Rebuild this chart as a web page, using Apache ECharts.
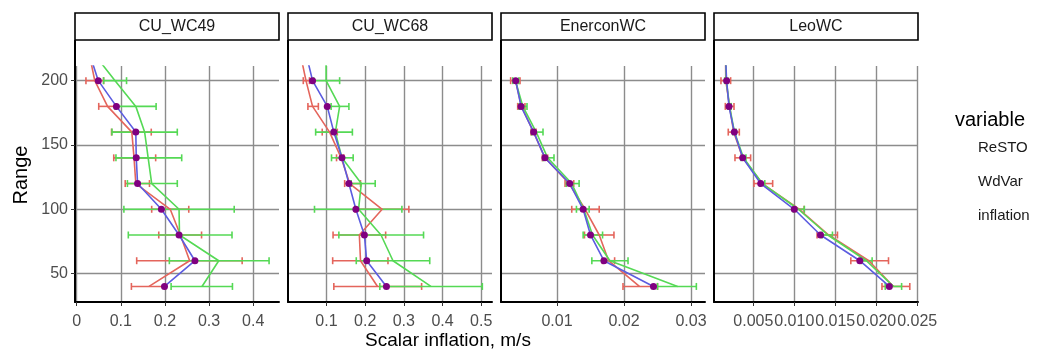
<!DOCTYPE html>
<html>
<head>
<meta charset="utf-8">
<script src="https://cdn.jsdelivr.net/npm/echarts@6/dist/echarts.min.js"></script>
<style>html,body{margin:0;padding:0;background:#fff}#c{width:1049px;height:351px}</style>
</head>
<body>
<div id="c"></div>
<script>
// ---- data ----
const ranges = [220, 200, 180, 160, 140, 120, 100, 80, 60, 40];
const panels = ['CU_WC49', 'CU_WC68', 'EnerconWC', 'LeoWC'];
const variables = ['ReSTO', 'WdVar', 'inflation'];

const cu49_ReSTO     = [0.029, 0.041, 0.070, 0.125, 0.130, 0.134, 0.212, 0.235, 0.256, 0.164];
const cu49_ReSTO_lo  = [null, 0.021, 0.050, 0.079, 0.084, 0.110, 0.170, 0.186, 0.136, 0.124];
const cu49_ReSTO_hi  = [null, 0.061, 0.089, 0.169, 0.179, 0.165, 0.254, 0.283, 0.375, 0.201];
const cu49_WdVar     = [0.041, 0.087, 0.134, 0.154, 0.162, 0.170, 0.232, 0.233, 0.322, 0.284];
const cu49_WdVar_lo  = [null, 0.061, 0.087, 0.080, 0.089, 0.115, 0.107, 0.117, 0.210, 0.214];
const cu49_WdVar_hi  = [null, 0.113, 0.180, 0.228, 0.238, 0.228, 0.357, 0.352, 0.436, 0.353];
const cu49_inflation = [0.030, 0.049, 0.090, 0.134, 0.135, 0.138, 0.192, 0.232, 0.268, 0.199];

const cu68_ReSTO     = [0.033, 0.047, 0.064, 0.108, 0.138, 0.160, 0.244, 0.185, 0.188, 0.232];
const cu68_ReSTO_lo  = [null, 0.040, 0.052, 0.089, 0.126, 0.147, 0.174, 0.117, 0.116, 0.119];
const cu68_ReSTO_hi  = [null, 0.056, 0.079, 0.128, 0.145, 0.188, 0.313, 0.253, 0.259, 0.346];
const cu68_WdVar     = [0.099, 0.099, 0.134, 0.123, 0.140, 0.190, 0.183, 0.241, 0.272, 0.370];
const cu68_WdVar_lo  = [null, 0.067, 0.112, 0.072, 0.113, 0.164, 0.069, 0.132, 0.177, 0.238];
const cu68_WdVar_hi  = [null, 0.134, 0.158, 0.167, 0.169, 0.226, 0.295, 0.351, 0.367, 0.503];
const cu68_inflation = [0.048, 0.064, 0.102, 0.119, 0.140, 0.158, 0.176, 0.198, 0.204, 0.255];

const ener_ReSTO     = [null, 0.0038, 0.0047, 0.0065, 0.0082, 0.0118, 0.0142, 0.0163, 0.0177, 0.0223];
const ener_ReSTO_lo  = [null, 0.00308, 0.00413, 0.00612, 0.00781, 0.0112, 0.0122, 0.0141, 0.0168, 0.01985];
const ener_ReSTO_hi  = [null, 0.00448, 0.00522, 0.00687, 0.0086, 0.0125, 0.0163, 0.0185, 0.0186, 0.0250];
const ener_WdVar     = [null, 0.0038, 0.0049, 0.0069, 0.0086, 0.0122, 0.0140, 0.0153, 0.0179, 0.0280];
const ener_WdVar_lo  = [null, 0.0034, 0.00433, 0.00622, 0.00796, 0.0114, 0.0129, 0.0139, 0.0152, 0.0250];
const ener_WdVar_hi  = [null, 0.0043, 0.00552, 0.00791, 0.00955, 0.0133, 0.0148, 0.0168, 0.0206, 0.0308];
const ener_inflation = [null, 0.00383, 0.00463, 0.00652, 0.0082, 0.0119, 0.0139, 0.0150, 0.0170, 0.0244];

const leo_ReSTO      = [0.0016, 0.00164, 0.0021, 0.0026, 0.0037, 0.0061, 0.0106, 0.0142, 0.0191, 0.0221];
const leo_ReSTO_lo   = [null, 0.00105, 0.00158, 0.00194, 0.00276, 0.00508, 0.0100, 0.01278, 0.0169, 0.0207];
const leo_ReSTO_hi   = [null, 0.00223, 0.00264, 0.00329, 0.00467, 0.00736, 0.0112, 0.01527, 0.0215, 0.0241];
const leo_WdVar      = [0.0016, 0.0017, 0.0021, 0.0027, 0.0038, 0.0061, 0.0105, 0.0141, 0.0188, 0.0221];
const leo_WdVar_lo   = [null, 0.0015, 0.0019, 0.0025, 0.0035, 0.0058, 0.0099, 0.0134, 0.0182, 0.0211];
const leo_WdVar_hi   = [null, 0.0019, 0.0023, 0.0029, 0.0041, 0.0064, 0.01123, 0.01466, 0.0195, 0.0231];
const leo_inflation  = [0.0016, 0.00174, 0.00203, 0.00268, 0.0037, 0.0059, 0.0100, 0.0132, 0.0180, 0.0216];

const yTicks = [50, 100, 150, 200];
const xTicks = [
  [0, 0.1, 0.2, 0.3, 0.4],
  [0.1, 0.2, 0.3, 0.4, 0.5],
  [0.01, 0.02, 0.03],
  [0.005, 0.010, 0.015, 0.020, 0.025]
];
const xLabelDigits = [1, 1, 2, 3];

// ---- build ----
const panelData = [
  {ReSTO: cu49_ReSTO, ReSTO_lo: cu49_ReSTO_lo, ReSTO_hi: cu49_ReSTO_hi, WdVar: cu49_WdVar, WdVar_lo: cu49_WdVar_lo, WdVar_hi: cu49_WdVar_hi, inflation: cu49_inflation},
  {ReSTO: cu68_ReSTO, ReSTO_lo: cu68_ReSTO_lo, ReSTO_hi: cu68_ReSTO_hi, WdVar: cu68_WdVar, WdVar_lo: cu68_WdVar_lo, WdVar_hi: cu68_WdVar_hi, inflation: cu68_inflation},
  {ReSTO: ener_ReSTO, ReSTO_lo: ener_ReSTO_lo, ReSTO_hi: ener_ReSTO_hi, WdVar: ener_WdVar, WdVar_lo: ener_WdVar_lo, WdVar_hi: ener_WdVar_hi, inflation: ener_inflation},
  {ReSTO: leo_ReSTO, ReSTO_lo: leo_ReSTO_lo, ReSTO_hi: leo_ReSTO_hi, WdVar: leo_WdVar, WdVar_lo: leo_WdVar_lo, WdVar_hi: leo_WdVar_hi, inflation: leo_inflation}
];
const xExtents = [[-0.0038, 0.4585], [0.0005, 0.528], [0.00164, 0.03209], [0.0002, 0.0251]];
const yExtent = [27.9, 211.4];

const FONT = '"Liberation Sans", Arial, sans-serif';
const colors = {ReSTO: '#E4655C', WdVar: '#55D955', inflation: '#5C5CE0'};
const lefts = [75, 288, 501, 714];
const W = 204, TOP = 66, H = 236;

const grids = [], xAxes = [], yAxes = [], series = [], graphics = [];

panels.forEach((name, i) => {
  grids.push({left: lefts[i], top: TOP, width: W, height: H, containLabel: false});
  xAxes.push({
    type: 'value', gridIndex: i, min: xExtents[i][0], max: xExtents[i][1],
    axisLine: {show: true, onZero: false, lineStyle: {color: '#000', width: 2}},
    axisTick: {show: true, length: 4, lineStyle: {color: '#333', width: 1}, customValues: xTicks[i]},
    axisLabel: {show: true, customValues: xTicks[i], color: '#4d4d4d', fontSize: 16, fontFamily: FONT, margin: 12,
      formatter: v => (v === 0 ? '0' : v.toFixed(xLabelDigits[i]))},
    splitLine: {show: true, lineStyle: {color: '#8c8c8c', width: 1.4}}
  });
  yAxes.push({
    type: 'value', gridIndex: i, min: yExtent[0], max: yExtent[1],
    axisLine: {show: true, onZero: false, lineStyle: {color: '#000', width: 2}},
    axisTick: {show: i === 0, length: 4, lineStyle: {color: '#333', width: 1}, customValues: yTicks},
    axisLabel: {show: i === 0, customValues: yTicks, color: '#4d4d4d', fontSize: 16, fontFamily: FONT, margin: 7},
    splitLine: {show: true, lineStyle: {color: '#8c8c8c', width: 1.4}}
  });

  const d = panelData[i];
  ['ReSTO', 'WdVar'].forEach(v => {
    const rows = [];
    ranges.forEach((r, k) => {
      if (d[v + '_lo'][k] != null) rows.push([d[v + '_lo'][k], d[v + '_hi'][k], r]);
    });
    series.push({
      type: 'custom', name: v, xAxisIndex: i, yAxisIndex: i, clip: true, z: 2,
      data: rows,
      encode: {x: [0, 1], y: 2},
      renderItem: (params, api) => {
        const p1 = api.coord([api.value(0), api.value(2)]);
        const p2 = api.coord([api.value(1), api.value(2)]);
        const c = 3.5;
        const st = {stroke: colors[v], lineWidth: 1.6, fill: null};
        return {type: 'group', children: [
          {type: 'line', shape: {x1: p1[0], y1: p1[1], x2: p2[0], y2: p2[1]}, style: st},
          {type: 'line', shape: {x1: p1[0], y1: p1[1] - c, x2: p1[0], y2: p1[1] + c}, style: st},
          {type: 'line', shape: {x1: p2[0], y1: p2[1] - c, x2: p2[0], y2: p2[1] + c}, style: st}
        ]};
      }
    });
  });
  variables.forEach(v => {
    series.push({
      type: 'line', name: v, xAxisIndex: i, yAxisIndex: i, clip: true, z: 3,
      data: ranges.map((r, k) => [d[v][k], r]).filter(p => p[0] != null),
      showSymbol: false, symbol: 'none', silent: true, animation: false,
      lineStyle: {color: colors[v], width: 1.6},
      itemStyle: {color: colors[v]}
    });
  });
  series.push({
    type: 'scatter', name: 'point', xAxisIndex: i, yAxisIndex: i, clip: true, z: 4,
    data: ranges.map((r, k) => [d.inflation[k], r]).filter(p => p[0] != null && p[1] <= 200),
    symbol: 'circle', symbolSize: 7, itemStyle: {color: '#800080', opacity: 1}, animation: false
  });

  // strip
  graphics.push({type: 'rect', shape: {x: lefts[i], y: 13, width: W, height: 27},
    style: {fill: '#fff', stroke: '#000', lineWidth: 1.6}, z: 10});
  graphics.push({type: 'text', x: lefts[i] + W / 2, y: 27,
    style: {text: name, font: '16px ' + FONT, fill: '#1a1a1a', textAlign: 'center', textVerticalAlign: 'middle'}, z: 11});
  graphics.push({type: 'line', shape: {x1: lefts[i], y1: 40, x2: lefts[i], y2: TOP}, style: {stroke: '#000', lineWidth: 2}, z: 10});
});

graphics.push({type: 'text', x: 21, y: 175, rotation: Math.PI / 2,
  style: {text: 'Range', font: '20px ' + FONT, fill: '#000', textAlign: 'center', textVerticalAlign: 'middle'}});
graphics.push({type: 'text', x: 448, y: 341,
  style: {text: 'Scalar inflation, m/s', font: '19px ' + FONT, fill: '#000', textAlign: 'center', textVerticalAlign: 'middle'}});
graphics.push({type: 'text', x: 955, y: 120,
  style: {text: 'variable', font: '20px ' + FONT, fill: '#000', textAlign: 'left', textVerticalAlign: 'middle'}});

const chart = echarts.init(document.getElementById('c'), null, {renderer: 'canvas'});
chart.setOption({
  animation: false,
  grid: grids, xAxis: xAxes, yAxis: yAxes, series: series,
  legend: {
    data: variables, orient: 'vertical', left: 959, top: 140, itemGap: 19, padding: 0,
    itemWidth: 14, itemHeight: 14, icon: 'rect', itemStyle: {opacity: 0}, lineStyle: {opacity: 0},
    textStyle: {fontSize: 15, fontFamily: FONT, color: '#1a1a1a'}, selectedMode: false
  },
  graphic: graphics
});
</script>
</body>
</html>
